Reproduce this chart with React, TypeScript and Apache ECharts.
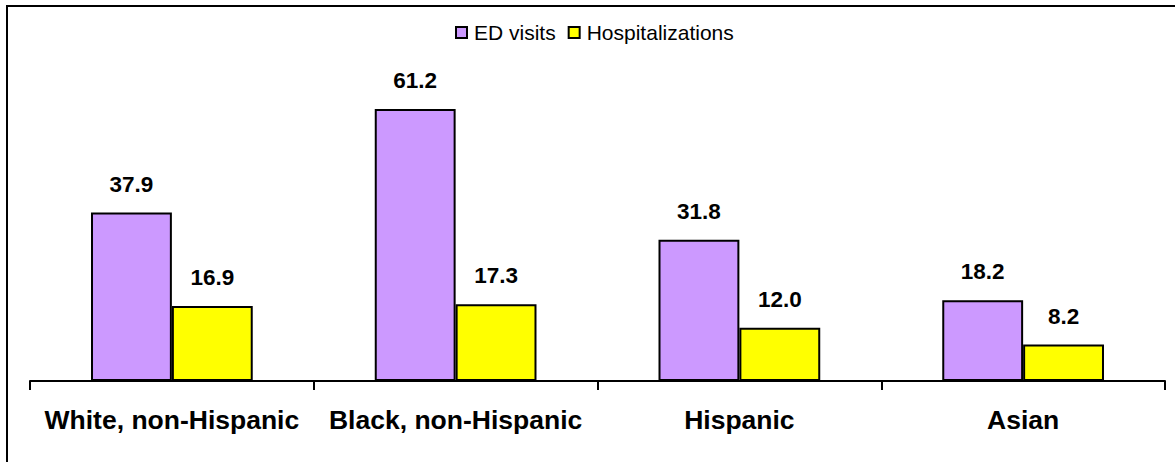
import React, { useEffect, useRef } from "react";
import * as echarts from "echarts";

const categories = ["White, non-Hispanic", "Black, non-Hispanic", "Hispanic", "Asian"];
const edVisits = [37.9, 61.2, 31.8, 18.2];
const hospitalizations = [16.9, 17.3, 12.0, 8.2];
const seriesNames = ["ED visits", "Hospitalizations"];

const FONT = "Arial, 'Liberation Sans', sans-serif";

export default function App() {
  const ref = useRef<HTMLDivElement>(null);
  useEffect(() => {
    if (!ref.current) return;
    const chart = echarts.init(ref.current, null, { renderer: "svg" });
    const labelStyle = {
      show: true,
      position: "top",
      distance: 17,
      fontFamily: FONT,
      fontWeight: "bold",
      fontSize: 22.5,
      color: "#000",
      formatter: (p: any) => Number(p.value).toFixed(1),
    };
    chart.setOption({
      animation: false,
      backgroundColor: "#fff",
      graphic: [
        {
          type: "rect",
          shape: { x: 7, y: 6, width: 1300, height: 600 },
          style: { fill: "none", stroke: "#000", lineWidth: 2 },
          silent: true,
          z: 100,
        },
      ],
      legend: {
        data: seriesNames,
        top: 17,
        left: 450,
        itemWidth: 11,
        itemHeight: 11,
        itemGap: 12,
        icon: "rect",
        textStyle: {
          fontFamily: FONT,
          fontSize: 21,
          color: "#000",
          padding: [0, 0, 0, 2],
        },
        itemStyle: { borderColor: "#000", borderWidth: 2 },
      },
      grid: { left: 30, right: 10, top: 70, bottom: 81, containLabel: false },
      xAxis: {
        type: "category",
        data: categories,
        axisLine: { lineStyle: { color: "#000", width: 2 } },
        axisTick: { show: true, length: 9, lineStyle: { color: "#000", width: 2 } },
        axisLabel: {
          margin: 25,
          fontFamily: FONT,
          fontWeight: "bold",
          fontSize: 26.5,
          color: "#000",
          interval: 0,
        },
      },
      yAxis: {
        type: "value",
        min: 0,
        max: 70,
        show: false,
        splitLine: { show: false },
      },
      series: [
        {
          name: seriesNames[0],
          type: "bar",
          data: edVisits,
          barGap: "0%",
          barCategoryGap: "43%",
          itemStyle: { color: "#CC99FF", borderColor: "#000", borderWidth: 2 },
          label: labelStyle,
        },
        {
          name: seriesNames[1],
          type: "bar",
          data: hospitalizations,
          barGap: "0%",
          barCategoryGap: "43%",
          itemStyle: { color: "#FFFF00", borderColor: "#000", borderWidth: 2 },
          label: labelStyle,
        },
      ],
    });
    return () => chart.dispose();
  }, []);
  return <div ref={ref} style={{ width: 1175, height: 462, position: "absolute", left: 0, top: 0 }} />;
}
